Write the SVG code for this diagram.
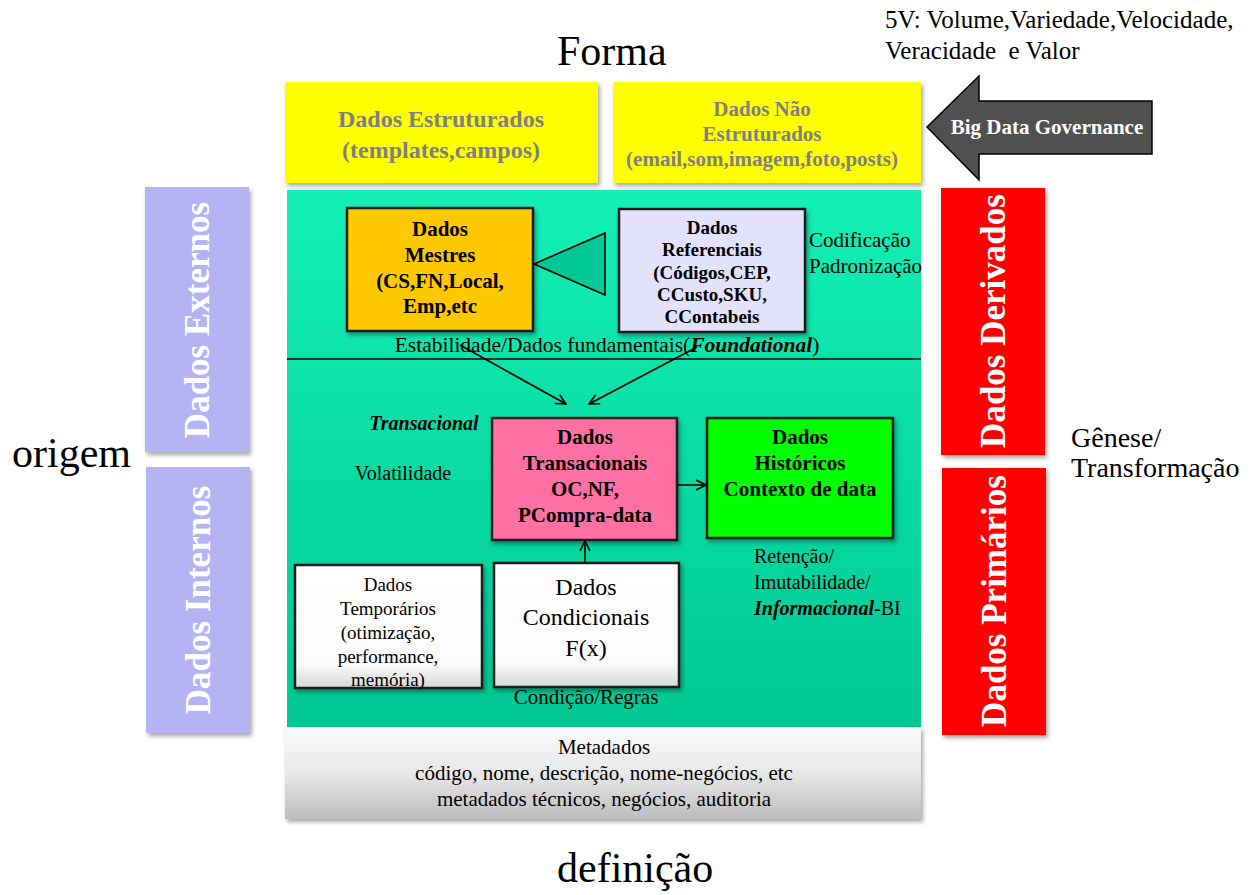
<svg xmlns="http://www.w3.org/2000/svg" width="1256" height="895" viewBox="0 0 1256 895">
<style>
text{font-family:"Liberation Serif","Times New Roman",serif;fill:#000}
.b{font-weight:bold}
.bi{font-weight:bold;font-style:italic}
.ttl{font-size:42px}
.side{font-size:35px;font-weight:bold;fill:#fff}
.yl{font-weight:bold;fill:#7f7f7f}
.box{stroke:#1a1a1a;stroke-width:2.5}
.ln{stroke:#000;stroke-width:1.6;fill:none}
</style>
<defs>
<linearGradient id="gGreen" x1="0" y1="0" x2="0" y2="1"><stop offset="0" stop-color="#12f0b6"/><stop offset="1" stop-color="#00c893"/></linearGradient>
<linearGradient id="gMeta" x1="0" y1="0" x2="0" y2="1"><stop offset="0" stop-color="#fafafa"/><stop offset="0.5" stop-color="#e8e8e8"/><stop offset="1" stop-color="#bdbdbd"/></linearGradient>
<linearGradient id="gWhite" x1="0" y1="0" x2="0" y2="1"><stop offset="0" stop-color="#ffffff"/><stop offset="0.8" stop-color="#fbfbfb"/><stop offset="1" stop-color="#d8d8d8"/></linearGradient>
<filter id="sh" x="-10%" y="-10%" width="125%" height="125%"><feDropShadow dx="2" dy="3" stdDeviation="2" flood-color="#000" flood-opacity="0.35"/></filter>
<marker id="ah" viewBox="0 0 12 12" refX="11" refY="6" markerWidth="12" markerHeight="12" markerUnits="userSpaceOnUse" orient="auto"><path d="M1,1 L11,6 L1,11" fill="none" stroke="#000" stroke-width="1.6"/></marker>
</defs>
<rect width="1256" height="895" fill="#fff"/>

<g id="titles">
<text class="ttl" x="557" y="65">Forma</text>
<text class="ttl" x="12" y="467">origem</text>
<text class="ttl" x="557" y="882">definição</text>
<text x="885" y="28" font-size="25">5V: Volume,Variedade,Velocidade,</text>
<text x="885" y="59" font-size="25" xml:space="preserve">Veracidade  e Valor</text>
<text x="1071" y="447" font-size="28">Gênese/</text>
<text x="1071" y="477" font-size="28">Transformação</text>
</g>

<g id="estruturados">
<rect x="285" y="82" width="313" height="101" fill="#ffff00" filter="url(#sh)"/>
<text class="yl" x="441" y="127" font-size="24" text-anchor="middle">Dados Estruturados</text>
<text class="yl" x="441" y="158" font-size="24" text-anchor="middle">(templates,campos)</text>
</g>
<g id="nao-estruturados">
<rect x="613" y="82" width="308" height="101" fill="#ffff00" filter="url(#sh)"/>
<text class="yl" x="762" y="116" font-size="21" text-anchor="middle">Dados Não</text>
<text class="yl" x="762" y="141" font-size="21" text-anchor="middle">Estruturados</text>
<text class="yl" x="762" y="166" font-size="21" text-anchor="middle">(email,som,imagem,foto,posts)</text>
</g>

<g id="big-data-governance">
<polygon points="927,127 979,76 979,101 1152,101 1152,154 979,154 979,180" fill="#505050" stroke="#000" stroke-width="1.5"/>
<text class="b" x="1047" y="134" font-size="21" style="fill:#fff" text-anchor="middle">Big Data Governance</text>
</g>

<g id="dados-externos">
<rect x="145" y="187" width="104" height="265" fill="#b4b4f5" filter="url(#sh)"/>
<text class="side" transform="translate(209,320) rotate(-90)" text-anchor="middle">Dados Externos</text>
</g>
<g id="dados-internos">
<rect x="146" y="467" width="104" height="266" fill="#b4b4f5" filter="url(#sh)"/>
<text class="side" transform="translate(210,600) rotate(-90)" text-anchor="middle">Dados Internos</text>
</g>
<g id="dados-derivados">
<rect x="941" y="188" width="104" height="267" fill="#ff0000" filter="url(#sh)"/>
<text class="side" transform="translate(1005,321) rotate(-90)" text-anchor="middle">Dados Derivados</text>
</g>
<g id="dados-primarios">
<rect x="942" y="468" width="104" height="267" fill="#ff0000" filter="url(#sh)"/>
<text class="side" transform="translate(1006,601) rotate(-90)" text-anchor="middle">Dados Primários</text>
</g>

<g id="area-dados">
<rect x="287" y="190" width="634" height="537" fill="url(#gGreen)"/>
<line x1="287" y1="359" x2="921" y2="359" stroke="#000" stroke-width="1.6"/>
<text x="607" y="352" font-size="21.5" text-anchor="middle">Estabilidade/Dados fundamentais(<tspan class="bi">Foundational</tspan>)</text>
<text class="bi" x="424" y="430" font-size="20" text-anchor="middle">Transacional</text>
<text x="403" y="480" font-size="20" text-anchor="middle">Volatilidade</text>
<text x="809" y="247" font-size="21">Codificação</text>
<text x="809" y="273" font-size="21">Padronização</text>
<text x="754" y="563" font-size="20">Retenção/</text>
<text x="754" y="589" font-size="20">Imutabilidade/</text>
<text x="754" y="615" font-size="20"><tspan class="bi">Informacional</tspan>-BI</text>
<text x="586" y="704" font-size="21" text-anchor="middle">Condição/Regras</text>
</g>

<g id="metadados">
<rect x="285" y="727" width="636" height="92" fill="url(#gMeta)" filter="url(#sh)"/>
<text x="604" y="754" font-size="21" text-anchor="middle">Metadados</text>
<text x="604" y="780" font-size="21" text-anchor="middle">código, nome, descrição, nome-negócios, etc</text>
<text x="604" y="806" font-size="21" text-anchor="middle">metadados técnicos, negócios, auditoria</text>
</g>

<g id="dados-mestres">
<rect class="box" x="347" y="208" width="186" height="123" fill="#ffc800" filter="url(#sh)"/>
<text class="b" x="440" y="236" font-size="21" text-anchor="middle">Dados</text>
<text class="b" x="440" y="262" font-size="21" text-anchor="middle">Mestres</text>
<text class="b" x="440" y="288" font-size="21" text-anchor="middle">(CS,FN,Local,</text>
<text class="b" x="440" y="313" font-size="21" text-anchor="middle">Emp,etc</text>
</g>

<g id="dados-referenciais">
<rect class="box" x="619" y="209" width="186" height="123" fill="#e2e2fc" filter="url(#sh)"/>
<text class="b" x="712" y="234" font-size="19" text-anchor="middle">Dados</text>
<text class="b" x="712" y="256" font-size="19" text-anchor="middle">Referenciais</text>
<text class="b" x="712" y="279" font-size="19" text-anchor="middle">(Códigos,CEP,</text>
<text class="b" x="712" y="301" font-size="19" text-anchor="middle">CCusto,SKU,</text>
<text class="b" x="712" y="323" font-size="19" text-anchor="middle">CContabeis</text>
</g>

<g id="dados-transacionais">
<rect class="box" x="492" y="418" width="185" height="122" fill="#ff6fa3" filter="url(#sh)"/>
<text class="b" x="585" y="444" font-size="21" text-anchor="middle">Dados</text>
<text class="b" x="585" y="470" font-size="21" text-anchor="middle">Transacionais</text>
<text class="b" x="585" y="496" font-size="21" text-anchor="middle">OC,NF,</text>
<text class="b" x="585" y="522" font-size="21" text-anchor="middle">PCompra-data</text>
</g>

<g id="dados-historicos">
<rect class="box" x="707" y="418" width="186" height="120" fill="#00ff00" filter="url(#sh)"/>
<text class="b" x="800" y="444" font-size="21" text-anchor="middle">Dados</text>
<text class="b" x="800" y="470" font-size="21" text-anchor="middle">Históricos</text>
<text class="b" x="800" y="496" font-size="21" text-anchor="middle">Contexto de data</text>
</g>

<g id="dados-temporarios">
<rect class="box" x="295" y="565" width="187" height="123" fill="url(#gWhite)" filter="url(#sh)"/>
<text x="388" y="591" font-size="19" text-anchor="middle">Dados</text>
<text x="388" y="615" font-size="19" text-anchor="middle">Temporários</text>
<text x="388" y="639" font-size="19" text-anchor="middle">(otimização,</text>
<text x="388" y="663" font-size="19" text-anchor="middle">performance,</text>
<text x="388" y="686" font-size="19" text-anchor="middle">memória)</text>
</g>

<g id="dados-condicionais">
<rect class="box" x="494" y="563" width="185" height="124" fill="url(#gWhite)" filter="url(#sh)"/>
<text x="586" y="595" font-size="24" text-anchor="middle">Dados</text>
<text x="586" y="625" font-size="24" text-anchor="middle">Condicionais</text>
<text x="586" y="656" font-size="24" text-anchor="middle">F(x)</text>
</g>

<g id="connectors">
<polygon points="534,264 605,233 605,295" fill="#00c896" stroke="#000" stroke-width="1.6"/>
<line class="ln" x1="460" y1="345" x2="566" y2="404" marker-end="url(#ah)"/>
<line class="ln" x1="697" y1="347" x2="589" y2="404" marker-end="url(#ah)"/>
<line class="ln" x1="678" y1="485" x2="706" y2="485" marker-end="url(#ah)"/>
<line class="ln" x1="585" y1="563" x2="585" y2="541" marker-end="url(#ah)"/>
</g>
</svg>
